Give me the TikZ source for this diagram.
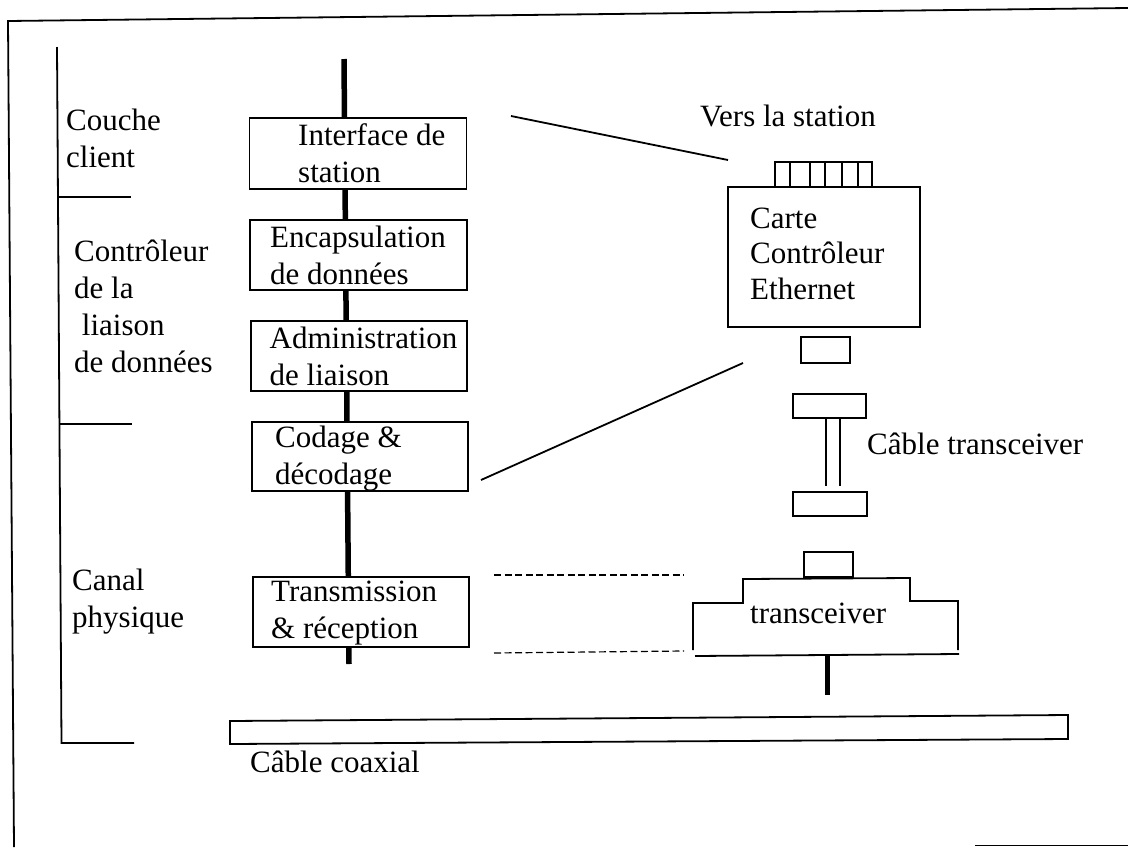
\documentclass[tikz,border=0pt]{standalone}
\usepackage{fontspec}
\setmainfont{Liberation Serif}
\tikzset{
 box/.style={draw=black,line width=1.8pt,fill=white,inner sep=0pt,anchor=north west,outer sep=0pt},
 lbl/.style={font=\fontsize{31}{37}\selectfont,anchor=west,align=left,inner sep=0pt,text=black},
 rule/.style={draw=black,line width=1.8pt},
 bus/.style={draw=black,line width=5.5pt},
 dashrule/.style={draw=black,line width=1.2pt,dash pattern=on 7pt off 3.5pt}
}
\begin{document}
\begin{tikzpicture}[x=1pt,y=-1pt]
\useasboundingbox (0,0) rectangle (1128,847);
% frame
\coordinate (fa) at (14,847); \coordinate (fb) at (8,21); \coordinate (fc) at (1128,8);
\draw[rule] (fa) -- (fb) -- (fc);
\coordinate (fd) at (975,845.5); \coordinate (fe) at (1128,845.5);
\draw[rule] (fd) -- (fe);
% left rule
\coordinate (r0) at (57,47); \coordinate (r1) at (61.5,743);
\coordinate (t1) at (131,197); \coordinate (t1s) at (58.5,197);
\coordinate (t2) at (132,424); \coordinate (t2s) at (60,424);
\coordinate (t3) at (134,743);
\draw[rule] (r0) -- (r1) -- (t3);
\draw[rule] (t1s) -- (t1);
\draw[rule] (t2s) -- (t2);
% bus
\coordinate (b0) at (344,59); \coordinate (b1) at (349,664);
\draw[bus] (b0) -- (b1);
% boxes
\node[box,minimum width=217pt,minimum height=71pt] (n1) at (249.5,118) {};
\node[box,minimum width=217pt,minimum height=70pt] (n2) at (250,220) {};
\node[box,minimum width=216pt,minimum height=70pt] (n3) at (251,321) {};
\node[box,minimum width=216pt,minimum height=69pt] (n4) at (252,422) {};
\node[box,minimum width=216pt,minimum height=70pt] (n5) at (253,577) {};
\node[lbl] (l1) at (298,153) {Interface de\\station};
\node[lbl] (l2) at (270,255) {Encapsulation\\de données};
\node[lbl] (l3) at (269.5,356) {Administration\\de liaison};
\node[lbl] (l4) at (275,458.5) {Codage \&\\décodage};
\node[lbl] (l5) at (271,613.5) {Transmission\\\& réception};
% left labels
\node[lbl] (c1) at (66,138) {Couche\\client};
\node[lbl] (c2) at (74,306) {Contrôleur\\de la\\ \ liaison\\de données};
\node[lbl] (c3) at (72,602) {Canal\\physique};
% links
\coordinate (a1) at (511,116); \coordinate (a2) at (728,160);
\coordinate (a3) at (481,480); \coordinate (a4) at (743,363);
\draw[rule] (a1) -- (a2);
\draw[rule] (a3) -- (a4);
\coordinate (d1) at (494,575); \coordinate (d2) at (684,575);
\coordinate (d3) at (494,653); \coordinate (d4) at (684,651);
\draw[dashrule] (d1) -- (d2);
\draw[dashrule] (d3) -- (d4);
% card
\node[lbl] (vs) at (700,116) {Vers la station};
\node[box,minimum width=97pt,minimum height=25pt] (conn) at (775,162) {};
\foreach \xx in {790,810,825,842,858}{\draw[rule] (\xx,162) -- (\xx,187);}
\node[box,minimum width=192pt,minimum height=140pt] (card) at (728,187) {};
\node[lbl] (cl) at (750,253.5) {Carte\\[-1.5pt]Contrôleur\\[-1.5pt]Ethernet};
\node[box,minimum width=49pt,minimum height=26pt] (k1) at (801,337) {};
\node[box,minimum width=73pt,minimum height=24pt] (k2) at (793,394) {};
\coordinate (w1) at (826,418); \coordinate (w2) at (826,486);
\coordinate (w3) at (840,418); \coordinate (w4) at (840,486);
\draw[rule] (w1) -- (w2);
\draw[rule] (w3) -- (w4);
\node[box,minimum width=74pt,minimum height=24pt] (k4) at (793,492) {};
\node[lbl] (ct) at (867,444) {Câble transceiver};
\node[box,minimum width=49pt,minimum height=25pt] (k5) at (804,552) {};
% transceiver
\coordinate (p1) at (693,650); \coordinate (p2) at (693,603); \coordinate (p3) at (743,603);
\coordinate (p4) at (743,579); \coordinate (p5) at (910,578); \coordinate (p6) at (910,601);
\coordinate (p7) at (958,601); \coordinate (p8) at (958,650);
\draw[rule] (p1) -- (p2) -- (p3) -- (p4) -- (p5) -- (p6) -- (p7) -- (p8);
\coordinate (p9) at (695,656); \coordinate (p10) at (959,654);
\draw[rule] (p9) -- (p10);
\node[lbl] (tl) at (750,613) {transceiver};
\coordinate (q1) at (827,655); \coordinate (q2) at (827,695);
\draw[bus,line width=5pt] (q1) -- (q2);
% coax
\coordinate (x1) at (230,721); \coordinate (x2) at (1068,715);
\coordinate (x3) at (1068,739); \coordinate (x4) at (230,744);
\draw[rule] (x1) -- (x2) -- (x3) -- (x4) -- cycle;
\node[lbl] (cc) at (250,762) {Câble coaxial};
\end{tikzpicture}
\end{document}
